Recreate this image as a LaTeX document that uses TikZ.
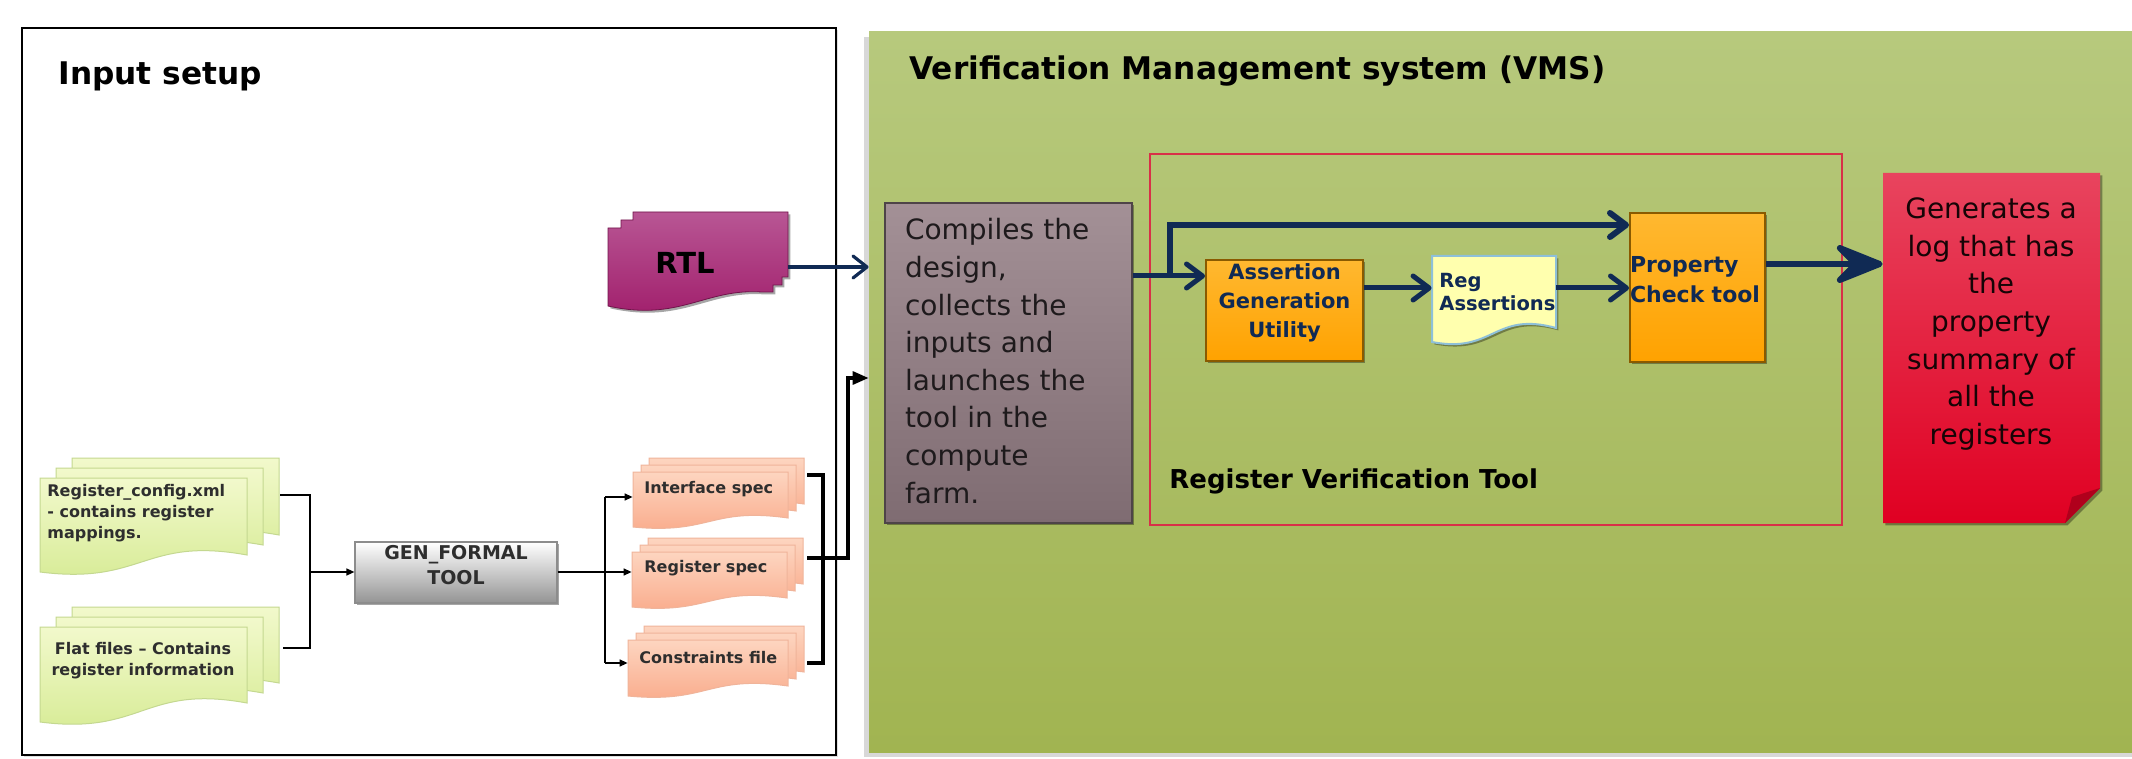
\documentclass[tikz,border=0pt]{standalone}
\usepackage{fontspec}
\setmainfont{DejaVu Sans}
\usetikzlibrary{arrows.meta,fit,shadows,calc}
\definecolor{cNavy}{HTML}{102A54}
\definecolor{cGreenT}{HTML}{B7C97D}
\definecolor{cGreenB}{HTML}{A1B451}
\definecolor{cCompT}{HTML}{A39096}
\definecolor{cCompB}{HTML}{7F6C72}
\definecolor{cCompL}{HTML}{4E4448}
\definecolor{cRedLine}{HTML}{D83048}
\definecolor{cOrange}{HTML}{FFA200}
\definecolor{cOrangeT}{HTML}{FFB830}
\definecolor{cOrangeL}{HTML}{8A5A00}
\definecolor{cRegFill}{HTML}{FFFFAE}
\definecolor{cRegLine}{HTML}{8EC0D8}
\definecolor{cLogT}{HTML}{E8445E}
\definecolor{cLogB}{HTML}{E00022}
\definecolor{cLogFold}{HTML}{B0001C}
\definecolor{cMagT}{HTML}{B85694}
\definecolor{cMagB}{HTML}{A01C6A}
\definecolor{cGsT}{HTML}{F2F9CC}
\definecolor{cGsB}{HTML}{D6EB94}
\definecolor{cGsL}{HTML}{C4D890}
\definecolor{cSsT}{HTML}{FDD5C0}
\definecolor{cSsB}{HTML}{F9AA8A}
\definecolor{cSsL}{HTML}{F0B49A}
\definecolor{cLbl}{HTML}{2E2E2E}
\definecolor{cDark}{HTML}{1E1A1C}
\definecolor{cLogTxt}{HTML}{160406}
% document sheet: x, y, w, right height, left height, style
\newcommand{\docshape}[6]{%
  \path[#6] ({#1},{#2}) -- ({(#1)+(#3)},{#2}) -- ({(#1)+(#3)},{(#2)+(#4)})
    .. controls ({(#1)+0.5*(#3)},{(#2)+(#4)-0.2*(#5)}) and ({(#1)+0.5*(#3)},{(#2)+(#5)+0.14*(#5)})
    .. ({#1},{(#2)+(#5)}) -- cycle;}
% stack of three sheets: x, y, w, hr, hl, dx, dy, style
\newcommand{\docstack}[8]{%
  \docshape{(#1)+2*(#6)}{(#2)+2*(#7)}{#3}{#4}{#5}{#8}%
  \docshape{(#1)+(#6)}{(#2)+(#7)}{#3}{#4}{#5}{#8}%
  \docshape{#1}{#2}{#3}{#4}{#5}{#8}}
\begin{document}
\begin{tikzpicture}[x=0.5pt,y=-0.5pt,
  softshadow/.style={drop shadow={shadow xshift=1.2pt,shadow yshift=-1.2pt,opacity=0.35,fill=black}},
  lbl/.style={font=\fontsize{8}{10.5}\selectfont\bfseries, text=cLbl, inner sep=0},
  big/.style={font=\fontsize{14}{18.8}\selectfont, inner sep=0},
  ttl/.style={font=\fontsize{15.6}{18}\selectfont\bfseries, text=black, inner sep=0},
  blu/.style={font=\fontsize{10.5}{14.5}\selectfont\bfseries, text=cNavy, inner sep=0},
  thinln/.style={line width=0.7pt, draw=black},
  thinarr/.style={thinln, -{Triangle[length=4pt,width=3.5pt]}},
  thickln/.style={line width=1.6pt, draw=black},
  navyarr/.style={draw=cNavy, line width=2.5pt, -{Straight Barb[length=8pt,width=12pt,round]}},
  greensheet/.style={top color=cGsT, bottom color=cGsB, draw=cGsL, line width=0.5pt},
  salmonsheet/.style={top color=cSsT, bottom color=cSsB, draw=cSsL, line width=0.5pt},
  orangebox/.style={inner sep=0, top color=cOrangeT, bottom color=cOrange, draw=cOrangeL, line width=1pt, softshadow}]
\useasboundingbox (0,0) rectangle (2132,759);
\fill[white] (0,0) rectangle (2132,759);

% ---------- Input setup frame ----------
\node[fit={(22,28)(836,755)}, inner sep=0, draw=black, line width=1.1pt, fill=white,
      drop shadow={shadow xshift=1pt,shadow yshift=-1pt,opacity=0.25}] (inbox) {};
\node[ttl, anchor=base west] (intitle) at (58,85) {Input setup};

% ---------- VMS frame ----------
\node[fit={(869,32)(2160,752)}, inner sep=0, top color=cGreenT, bottom color=cGreenB,
      drop shadow={shadow xshift=-2.5pt,shadow yshift=-2.5pt,opacity=0.3}] (vms) {};
\node[ttl, anchor=base west] (vmstitle) at (909,80) {Verification Management system (VMS)};

% ---------- RTL ----------
\shade[top color=cMagT, bottom color=cMagB, draw=cMagB!70!black, line width=0.4pt, softshadow]
  (608,228) -- (621,228) -- (621,220) -- (633,220) -- (633,212) -- (788,212) -- (788,277)
  -- (782,277) -- (782,285) -- (773,285) -- (773,292) -- (762,292)
  .. controls (705,288) and (680,322) .. (608,306) -- cycle;
\node[fit={(608,212)(788,306)}, inner sep=0] (rtl) {};
\node[font=\fontsize{14.5}{16}\selectfont\bfseries, text=black, inner sep=0] (rtltxt) at (685,263) {RTL};

% ---------- input document stacks ----------
\docstack{40}{478}{207}{77}{94}{16}{-10}{greensheet}
\node[fit={(40,458)(280,572)}, inner sep=0] (regcfg) {};
\node[lbl, anchor=west, align=left] (regcfgtxt) at (47,513)
  {Register\_config.xml\\- contains register\\mappings.};

\docstack{40}{627}{207}{76}{95}{16}{-10}{greensheet}
\node[fit={(40,607)(283,722)}, inner sep=0] (flat) {};
\node[lbl, align=center] (flattxt) at (143,661) {Flat files – Contains\\register information};

% ---------- GEN_FORMAL ----------
\node[fit={(355,542)(557,603)}, inner sep=0, top color=white, bottom color=black!42,
      draw=black!45, line width=0.6pt, softshadow,
      font=\fontsize{9.5}{12.5}\selectfont\bfseries, text=cLbl, align=center] (gen) {GEN\_FORMAL\\TOOL};

% ---------- output spec stacks ----------
\docstack{633}{472}{155}{46}{55}{8}{-7}{salmonsheet}
\node[fit={(633,458)(807,527)}, inner sep=0] (ispec) {};
\node[lbl, anchor=west] (ispectxt) at (644,489) {Interface spec};

\docstack{632}{552}{155}{46}{55}{8}{-7}{salmonsheet}
\node[fit={(632,538)(807,607)}, inner sep=0] (rspec) {};
\node[lbl, anchor=west] (rspectxt) at (644,568) {Register spec};

\docstack{628}{640}{160}{46}{56}{8}{-7}{salmonsheet}
\node[fit={(628,626)(807,696)}, inner sep=0] (cspec) {};
\node[lbl, anchor=west] (cspectxt) at (639,658) {Constraints file};

% ---------- thin connectors ----------
\coordinate (m1) at (310,495);
\coordinate (m2) at (310,648);
\coordinate (m3) at (310,572);
\draw[thinln] (regcfg.east |- m1) -- (m1) -- (m2) -- (flat.east |- m2);
\draw[thinarr] (m3) -- (gen.west |- m3);
\coordinate (s1) at (605,497);
\coordinate (s2) at (605,572);
\coordinate (s3) at (605,663);
\draw[thinln] (gen.east |- s2) -- (s2);
\draw[thinln] (s1) -- (s3);
\draw[thinarr] (s1) -- (ispec.west |- s1);
\draw[thinarr] (s2) -- (rspec.west |- s2);
\draw[thinarr] (s3) -- (cspec.west |- s3);

% ---------- thick black connectors ----------
\coordinate (bA) at (823,475);
\coordinate (bB) at (823,663);
\draw[thickln] (ispec.east |- bA) -- (bA) -- (bB) -- (cspec.east |- bB);
\coordinate (rA) at (848,558);
\coordinate (rB) at (848,378);
\draw[thickln, -{Triangle[length=8pt,width=6.5pt]}] (rspec.east |- rA) -- (rA) -- (rB) -- (vms.west |- rB);

% RTL arrow
\coordinate (q) at (0,267);
\draw[draw=cNavy, line width=1.6pt, -{Straight Barb[length=7pt,width=11pt,round]}] (rtl.east |- q) -- (vms.west |- q);

% ---------- Compiles box ----------
\node[fit={(885,203)(1132,523)}, inner sep=0, top color=cCompT, bottom color=cCompB,
      draw=cCompL, line width=0.8pt, softshadow] (comp) {};
\node[big, text=cDark, align=left, text width=103.5pt] (comptxt) at (1008.5,361)
  {Compiles the\\design,\\collects the\\inputs and\\launches the\\tool in the\\compute\\farm.};

% ---------- Register Verification Tool ----------
\node[fit={(1150,154)(1842,525)}, inner sep=0, draw=cRedLine, line width=1pt] (rvt) {};
\node[font=\fontsize{13}{15}\selectfont\bfseries, text=black, inner sep=0, anchor=base west] (rvttxt) at (1169,488) {Register Verification Tool};

\node[fit={(1206,260)(1363,361)}, orangebox, blu, align=center] (agu) {Assertion\\Generation\\Utility};

\docshape{1432}{256}{124}{72}{86}{fill=cRegFill, draw=cRegLine, line width=1pt, softshadow}
\node[fit={(1432,256)(1556,345)}, inner sep=0] (reg) {};
\node[font=\fontsize{9.75}{11.5}\selectfont\bfseries, text=cNavy, inner sep=0, align=left, anchor=west] (regtxt) at (1439,292) {Reg\\Assertions};

\node[fit={(1619,213)(1776,362)}, orangebox, blu, font=\fontsize{11}{15}\selectfont\bfseries, align=left, text width=67.5pt] (prop) {Property\\Check tool\\[34pt]};

% ---------- Log ----------
\shade[top color=cLogT, bottom color=cLogB, softshadow]
  (1883,173) -- (2100,173) -- (2100,488) -- (2065,523) -- (1883,523) -- cycle;
\fill[cLogFold] (2100,488) -- (2065,523) -- (2072,497) -- cycle;
\node[fit={(1883,173)(2100,523)}, inner sep=0] (log) {};
\node[big, text=cLogTxt, align=center] (logtxt) at (1991,324)
  {Generates a\\log that has\\the\\property\\summary of\\all the\\registers};

% ---------- navy arrows ----------
\coordinate (j1) at (1170,276);
\coordinate (j2) at (1170,225);
\draw[navyarr] (comp.east |- j1) -- (agu.west |- j1);
\draw[navyarr, line width=3pt] (j1) -- (j2) -- (prop.west |- j2);
\coordinate (r1) at (0,288);
\draw[navyarr] (agu.east |- r1) -- (reg.west |- r1);
\draw[navyarr] (reg.east |- r1) -- (prop.west |- r1);
\coordinate (l1) at (0,264);
\draw[draw=cNavy, line width=3pt, -{Stealth[length=30pt,width=24pt,inset=12pt,round]}] (prop.east |- l1) -- (log.west |- l1);
\end{tikzpicture}
\end{document}
